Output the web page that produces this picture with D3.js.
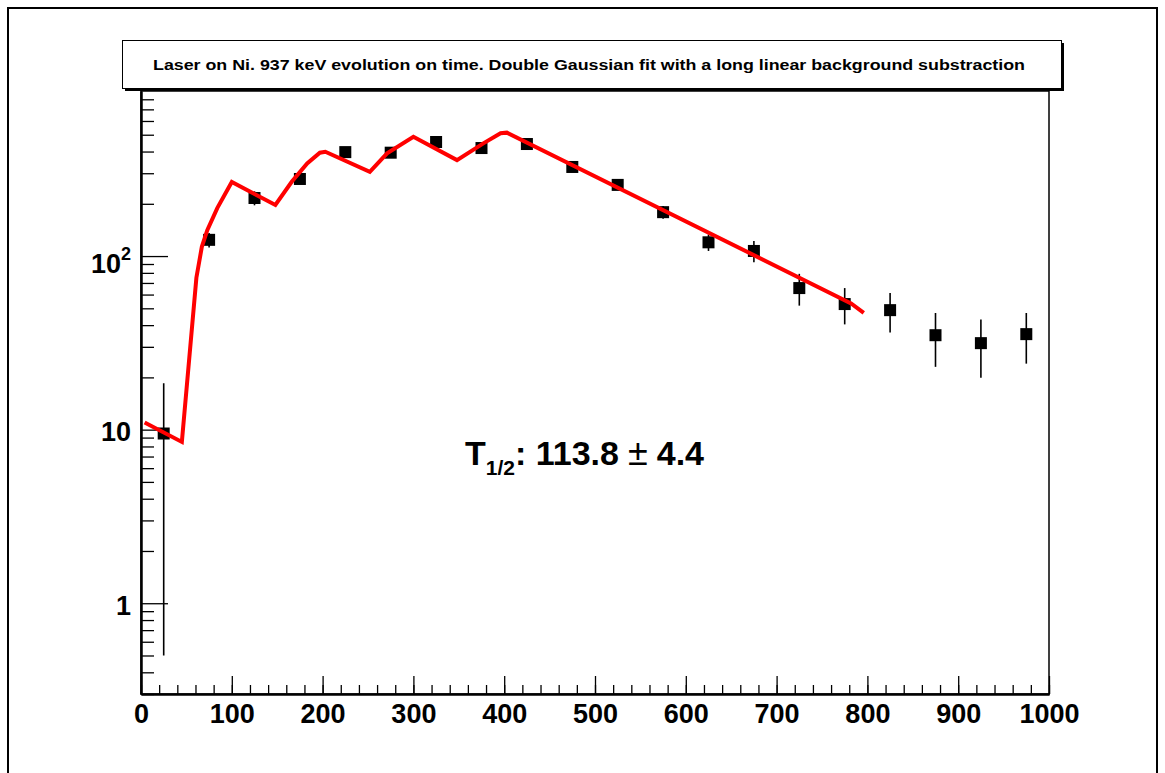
<!DOCTYPE html>
<html lang="en">
<head>
  <meta charset="UTF-8">
  <title>Laser on Ni. 937 keV</title>
  <script src="https://d3js.org/d3.v7.min.js"></script>
  <style>
    body { margin: 0; background: #fff; }
    text { font-family: 'Liberation Sans', Arial, Helvetica, sans-serif; font-weight: bold; fill: #000; }
    .axis path { stroke: #000; stroke-width: 2px; }
    .axis line { stroke: #000; stroke-width: 1.3px; }
  </style>
</head>
<body>
<script>
  // bin centres, counts and errors
  var binCenters = [25, 75, 125, 175, 225, 275, 325, 375, 425, 475, 525, 575, 625, 675, 725, 775, 825, 875, 925, 975];
  var counts = [9.5, 124, 216, 278, 397, 394, 454, 419, 442, 326, 257, 179, 120, 107, 65.4, 52.9, 48.8, 35.0, 31.5, 35.5];
  var errors = [9, 12, 20, 18, 20, 22, 22, 21, 22, 19, 17, 15, 13, 15, 13.6, 12.5, 12.5, 12, 11.6, 11.5];

  // fit curve (red)
  var fitX = [4, 45, 61, 67, 73, 84, 100, 148, 166, 183, 197, 203, 252, 271, 300, 348, 377, 396, 403, 782, 796];
  var fitY = [11.0, 8.5, 75, 113, 141, 189, 267, 197, 268, 342, 394, 399, 306, 391, 487, 357, 446, 510, 514, 53.4, 47.1];

  var xMajor = [0, 100, 200, 300, 400, 500, 600, 700, 800, 900, 1000];
  var yMajor = [1, 10, 100];
  var yMinor = [0.3, 0.4, 0.5, 0.6, 0.7, 0.8, 0.9, 2, 3, 4, 5, 6, 7, 8, 9, 20, 30, 40, 50, 60, 70, 80, 90, 200, 300, 400, 500, 600, 700, 800];

  var titleText = "Laser on Ni. 937 keV evolution on time. Double Gaussian fit with a long linear background substraction";

  var W = 1165, H = 773;
  var frameL = 141, frameR = 1049, frameT = 91, frameB = 694;

  var svg = d3.select("body").append("svg")
    .attr("width", W)
    .attr("height", H);

  // canvas border
  svg.append("rect")
    .attr("x", 8).attr("y", 8)
    .attr("width", 1149).attr("height", 820)
    .attr("fill", "none").attr("stroke", "#000").attr("stroke-width", 2);

  var x = d3.scaleLinear().domain([0, 1000]).range([frameL, frameR]);
  var y = d3.scaleLog().domain([0.3, 893]).range([frameB, frameT]);

  // frame
  svg.append("rect")
    .attr("x", frameL).attr("y", frameT)
    .attr("width", frameR - frameL).attr("height", frameB - frameT)
    .attr("fill", "none").attr("stroke", "#000").attr("stroke-width", 1.5);

  // x axis: minor then major ticks
  svg.append("g")
    .attr("class", "axis")
    .attr("transform", "translate(0," + frameB + ")")
    .call(d3.axisBottom(x).tickValues(d3.range(0, 1001, 20)).tickSizeInner(-9).tickSizeOuter(0).tickFormat(""));

  var xAxis = svg.append("g")
    .attr("class", "axis")
    .attr("transform", "translate(0," + frameB + ")")
    .call(d3.axisBottom(x).tickValues(xMajor).tickSizeInner(-18).tickSizeOuter(0).tickPadding(10).tickFormat(d3.format("d")));
  xAxis.selectAll("text").style("font-size", "27px");

  // y axis
  svg.append("g")
    .attr("class", "axis")
    .attr("transform", "translate(" + frameL + ",0)")
    .call(d3.axisLeft(y).tickValues(yMinor).tickSizeInner(-13).tickSizeOuter(0).tickFormat(""));

  var yAxis = svg.append("g")
    .attr("class", "axis")
    .attr("transform", "translate(" + frameL + ",0)")
    .call(d3.axisLeft(y).tickValues(yMajor).tickSizeInner(-27).tickSizeOuter(0).tickPadding(10).tickFormat(""));

  yAxis.selectAll(".tick text")
    .style("font-size", "27px")
    .attr("dy", function (d) { return d === 100 ? "0.62em" : "0.42em"; })
    .each(function (d) {
      var t = d3.select(this);
      if (d === 100) {
        t.append("tspan").text("10");
        t.append("tspan").attr("dy", -13).style("font-size", "18px").text("2");
      } else {
        t.text(d);
      }
    });

  // error bars
  var g = svg.append("g");
  g.selectAll(".err")
    .data(binCenters)
    .enter().append("line")
    .attr("class", "err")
    .attr("x1", function (d) { return x(d); })
    .attr("x2", function (d) { return x(d); })
    .attr("y1", function (d, i) { return y(counts[i] + errors[i]); })
    .attr("y2", function (d, i) { return y(Math.max(counts[i] - errors[i], 0.3)); })
    .attr("stroke", "#000")
    .attr("stroke-width", 1.6);

  var ms = 12;
  g.selectAll(".mk")
    .data(binCenters)
    .enter().append("rect")
    .attr("class", "mk")
    .attr("x", function (d) { return x(d) - ms / 2; })
    .attr("y", function (d, i) { return y(counts[i]) - ms / 2; })
    .attr("width", ms)
    .attr("height", ms)
    .attr("fill", "#000");

  // fit
  var line = d3.line()
    .x(function (d) { return x(d[0]); })
    .y(function (d) { return y(d[1]); });

  svg.append("path")
    .datum(fitX.map(function (d, i) { return [d, fitY[i]]; }))
    .attr("fill", "none")
    .attr("stroke", "#ff0000")
    .attr("stroke-width", 4)
    .attr("stroke-linejoin", "miter")
    .attr("d", line);

  // title box with shadow
  svg.append("rect")
    .attr("x", 125).attr("y", 43)
    .attr("width", 939).attr("height", 48)
    .attr("fill", "#000");
  svg.append("rect")
    .attr("x", 122.5).attr("y", 40.5)
    .attr("width", 939).attr("height", 48)
    .attr("fill", "#fff").attr("stroke", "#000").attr("stroke-width", 1);
  svg.append("text")
    .attr("x", 589).attr("y", 70)
    .attr("text-anchor", "middle")
    .attr("textLength", 872)
    .attr("lengthAdjust", "spacingAndGlyphs")
    .style("font-size", "14px")
    .text(titleText);

  // half-life annotation
  var ann = svg.append("text")
    .attr("x", 465).attr("y", 465)
    .style("font-size", "34px");
  ann.append("tspan").text("T");
  ann.append("tspan").attr("dy", 10).style("font-size", "21px").text("1/2");
  ann.append("tspan").attr("dy", -10).text(": 113.8");
  ann.append("tspan").attr("dx", 9).style("font-weight", "normal").style("font-size", "36px").text("\u00b1");
  ann.append("tspan").attr("dx", 9).text("4.4");
</script>
</body>
</html>
